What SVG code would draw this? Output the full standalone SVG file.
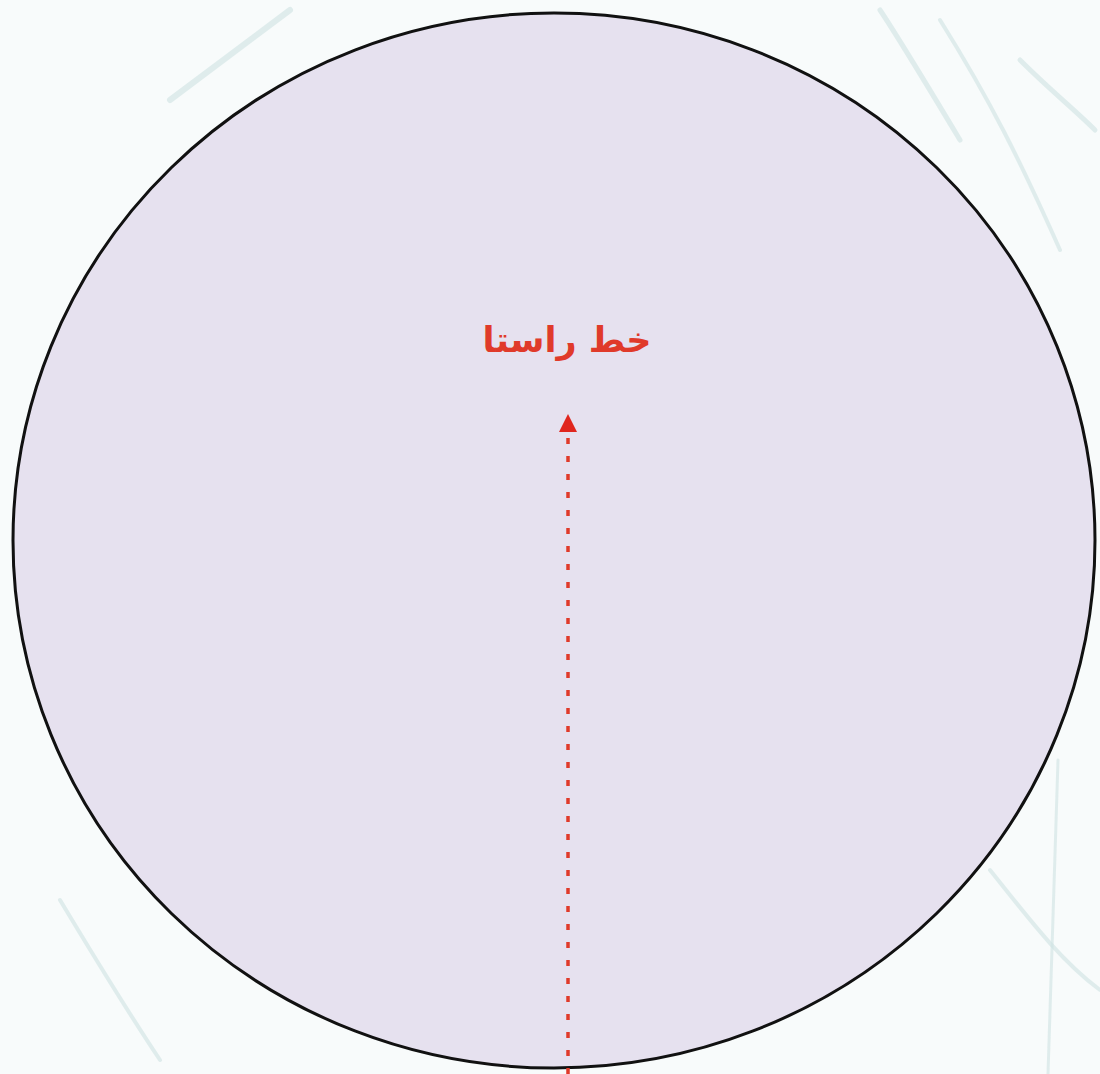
<svg xmlns="http://www.w3.org/2000/svg" width="1100" height="1074" viewBox="0 0 1100 1074">
  <style>
    .bgstroke { fill: none; stroke: #cfe3e2; stroke-linecap: round; opacity: 0.6; }
    .label { font-family: "DejaVu Sans", "Noto Sans", sans-serif; font-weight: bold; fill: #e03a2a; }
    .dotted { stroke: #e03a2a; stroke-width: 3.5; stroke-dasharray: 6 12; fill: none; }
  </style>
  <defs>
    <marker id="arrowhead" viewBox="0 0 18 18" refX="0" refY="9" markerWidth="18" markerHeight="18" markerUnits="userSpaceOnUse" orient="auto">
      <path d="M0,0 L18,9 L0,18 Z" fill="#e0261e"/>
    </marker>
  </defs>
  <rect x="0" y="0" width="1100" height="1074" fill="#f8fbfb"/>
  <g id="background-strokes">
    <path class="bgstroke" stroke-width="6" d="M170,100 C210,70 250,40 290,10"/>
    <path class="bgstroke" stroke-width="5" d="M880,10 C900,40 930,90 960,140"/>
    <path class="bgstroke" stroke-width="4" d="M940,20 C990,100 1020,160 1060,250"/>
    <path class="bgstroke" stroke-width="5" d="M1020,60 C1050,90 1075,110 1095,130"/>
    <path class="bgstroke" stroke-width="4" d="M990,870 C1030,920 1060,960 1100,990"/>
    <path class="bgstroke" stroke-width="3" d="M1058,760 L1048,1074"/>
    <path class="bgstroke" stroke-width="4" d="M60,900 C90,950 120,1000 160,1060"/>
  </g>
  <g id="circle">
    <ellipse cx="554" cy="540.5" rx="541" ry="527.5" fill="#e6e1ef" stroke="#111" stroke-width="3"/>
  </g>
  <g id="connectors">
    <line class="dotted" x1="568" y1="1074" x2="568" y2="432" marker-end="url(#arrowhead)"/>
  </g>
  <g id="label">
    <text class="label" x="567" y="352" font-size="35" text-anchor="middle" direction="rtl">خط راستا</text>
  </g>
</svg>
